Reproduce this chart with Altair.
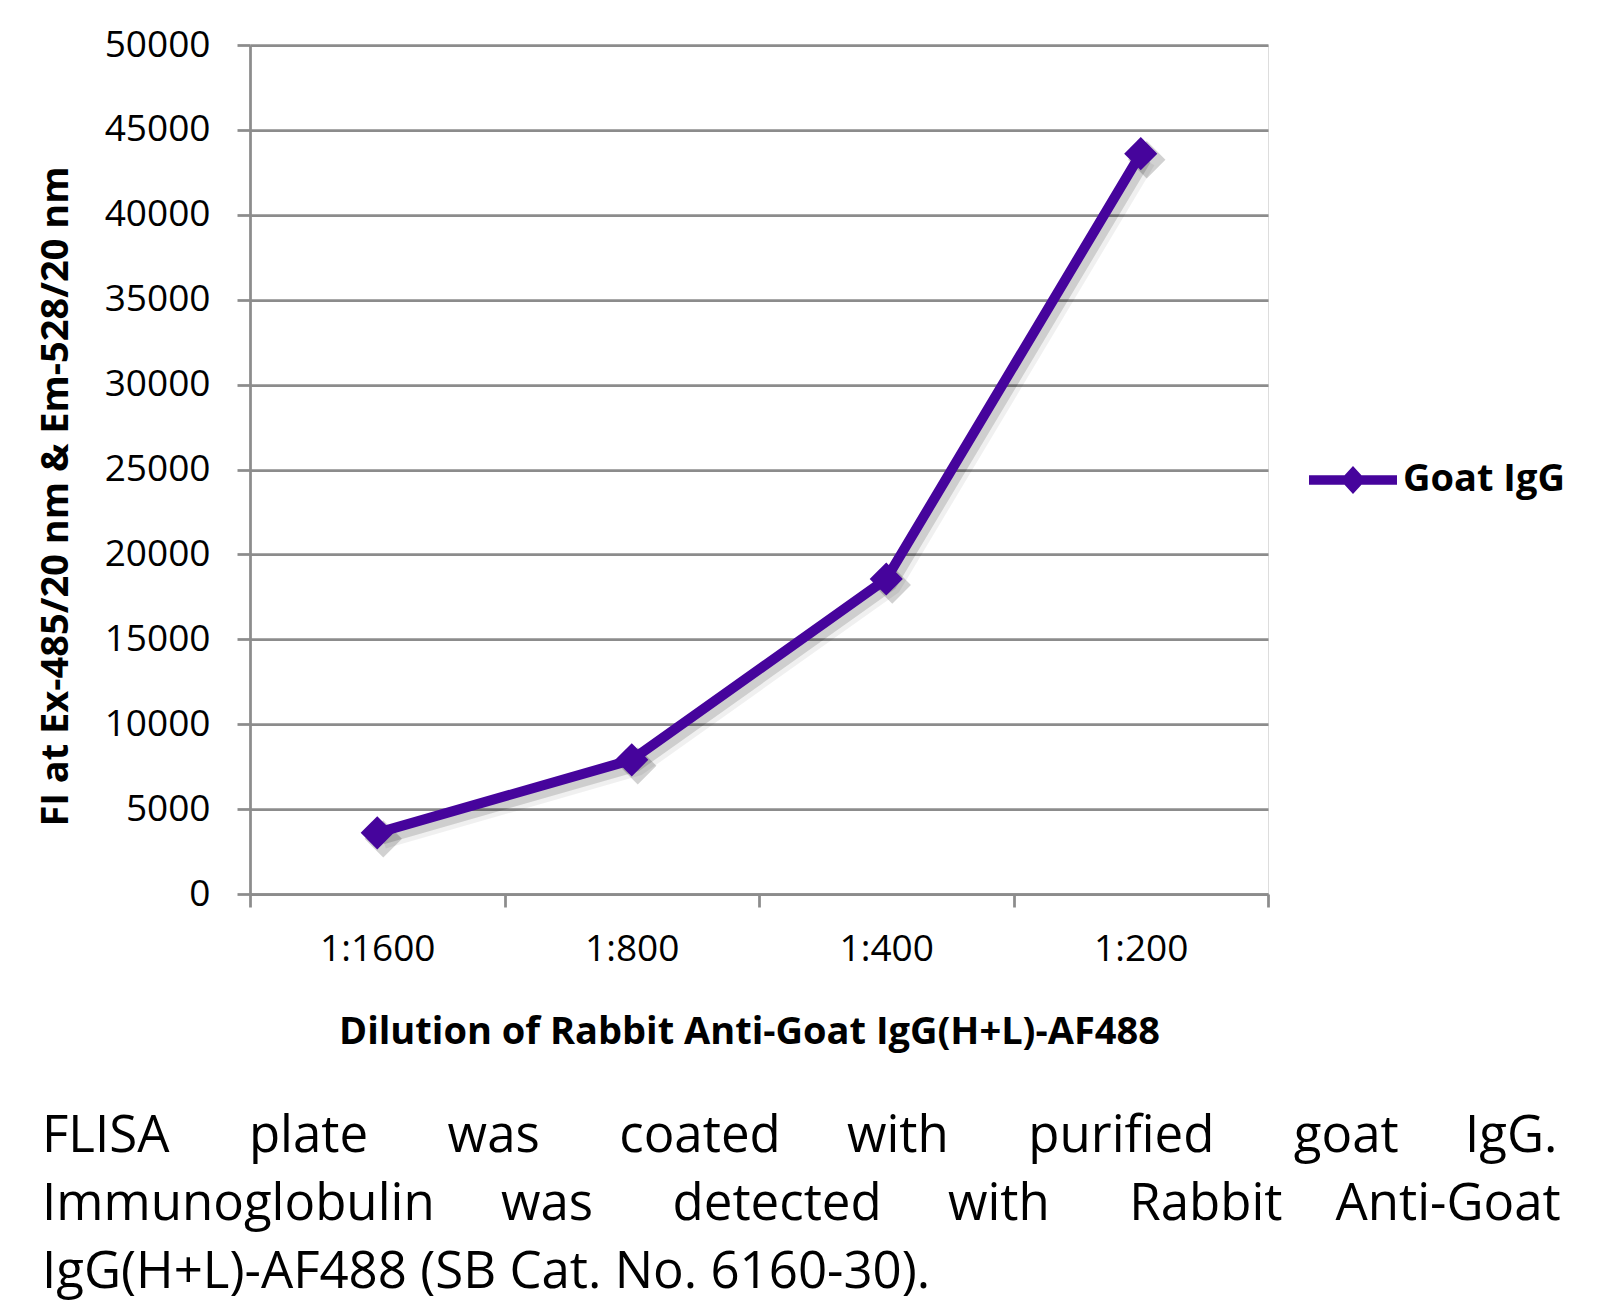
import altair as alt
import pandas as pd

dilutions = ["1:1600", "1:800", "1:400", "1:200"]
fi_values = [3600, 7900, 18550, 43600]
series = ["Goat IgG"] * 4

NB = "\u00a0"
def justify(words, gaps):
    out = words[0]
    for w, g in zip(words[1:], gaps):
        out += " " + NB * (g - 1) + w
    return out

caption_line1 = ["FLISA", "plate", "was", "coated", "with", "purified", "goat", "IgG."]
caption_line2 = ["Immunoglobulin", "was", "detected", "with", "Rabbit", "Anti-Goat"]
caption_line3 = ["IgG(H+L)-AF488", "(SB", "Cat.", "No.", "6160-30)."]

caption_lines = [
    justify(caption_line1, [6, 6, 6, 5, 6, 6, 5]),
    justify(caption_line2, [5, 6, 5, 6, 4]),
    justify(caption_line3, [1, 1, 1, 1]),
]

df = pd.DataFrame({"dilution": dilutions, "fi": fi_values, "series": series})
cap = pd.DataFrame({"line": caption_lines, "row": [0, 1, 2]})

FONT = "Open Sans"
PURPLE = "#46049C"
GRID = "#8C8C8C"

W, H = 1018, 849

x_enc = alt.X(
    "dilution:N",
    sort=dilutions,
    scale=alt.Scale(paddingInner=0, paddingOuter=0),
    axis=alt.Axis(
        title="Dilution of Rabbit Anti-Goat IgG(H+L)-AF488",
        labelAngle=0,
        labelFont=FONT, labelFontSize=37, labelColor="black", labelPadding=24,
        titleFont=FONT, titleFontSize=38, titleFontWeight="bold", titleColor="black",
        titlePadding=46, titleX=499,
        tickBand="extent", tickSize=13, tickColor=GRID, tickWidth=2.75,
        domainColor=GRID, domainWidth=2.75, grid=False,
    ),
)
y_enc = alt.Y(
    "fi:Q",
    scale=alt.Scale(domain=[0, 50000]),
    axis=alt.Axis(
        title="FI at Ex-485/20 nm & Em-528/20 nm",
        values=list(range(0, 50001, 5000)),
        format="d",
        labelFont=FONT, labelFontSize=37, labelColor="black", labelPadding=27,
        titleFont=FONT, titleFontSize=38, titleFontWeight="bold", titleColor="black",
        titleX=-194, titleY=451, titleAngle=-90, titleAlign="center", titleBaseline="middle",
        tickSize=13, tickColor=GRID, tickWidth=2.75,
        domainColor=GRID, domainWidth=2.75,
        grid=True, gridColor=GRID, gridWidth=2.75,
    ),
)

base = alt.Chart(df).encode(x=x_enc, y=y_enc)

shadow1 = base.mark_line(strokeWidth=18, color="#000000", opacity=0.06, xOffset=6, yOffset=7)
shadow2 = base.mark_line(strokeWidth=11, color="#000000", opacity=0.14, xOffset=5, yOffset=6)
shadow_pts = base.mark_point(shape="diamond", size=1400, filled=True, color="#000000",
                             opacity=0.18, xOffset=6, yOffset=6)

legend_path = ("M-1,-0.108 L-0.192,-0.108 L0,-0.32 L0.192,-0.108 L1,-0.108 L1,0.108 "
               "L0.192,0.108 L0,0.32 L-0.192,0.108 L-1,0.108 Z")

line = base.mark_line(strokeWidth=10).encode(
    color=alt.Color(
        "series:N",
        scale=alt.Scale(domain=["Goat IgG"], range=[PURPLE]),
        legend=alt.Legend(
            title=None, orient="none", legendX=1059, legendY=391,
            symbolType=legend_path, symbolSize=7744, symbolStrokeWidth=0,
            symbolFillColor=PURPLE,
            labelFont=FONT, labelFontSize=38, labelFontWeight="bold", labelColor="black",
            labelOffset=6, labelLimit=400,
        ),
    )
)
pts = base.mark_point(shape="diamond", size=1100, filled=True, opacity=1, color=PURPLE)

cap_base = alt.Chart(cap).mark_text(
    font=FONT, fontSize=51, align="left", baseline="alphabetic", color="black"
)
cap_layers = [
    cap_base.transform_filter(alt.datum.row == i).encode(
        text="line:N", x=alt.value(-208), y=alt.value(yy)
    )
    for i, yy in enumerate([1107, 1175, 1243])
]

chart = alt.layer(shadow1, shadow2, shadow_pts, line, pts, *cap_layers).properties(
    width=W, height=H,
    autosize=alt.AutoSizeParams(type="none"),
    padding={"left": 242, "top": 37, "right": 332, "bottom": 410},
).configure_view(stroke=None).configure(background="white")

chart.save("out.html", embed_options={"renderer": "svg", "actions": False})
